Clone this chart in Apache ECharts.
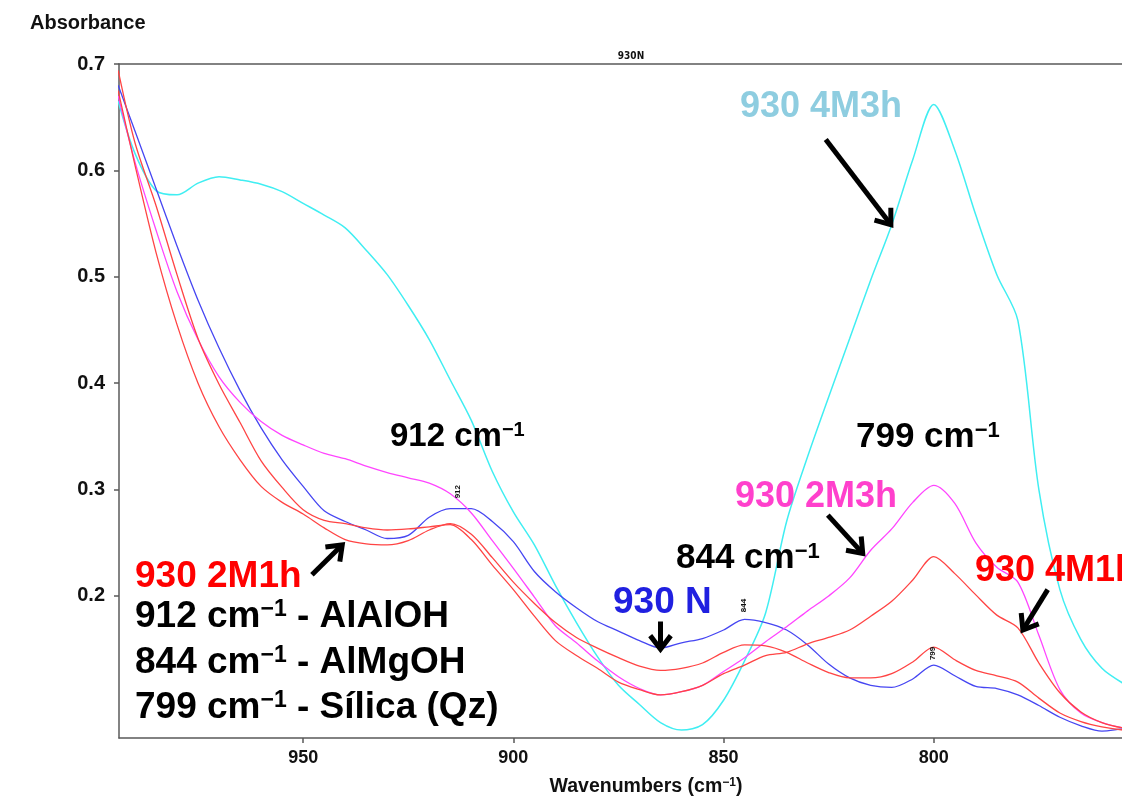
<!doctype html>
<html>
<head>
<meta charset="utf-8">
<title>930N</title>
<script src="https://cdn.jsdelivr.net/npm/echarts@6/dist/echarts.min.js"></script>
<style>
html, body { margin: 0; padding: 0; overflow: hidden; background: #fff; }
#main { width: 1200px; height: 797px; }
</style>
</head>
<body>
<div id="main"></div>
<script>
// wavenumbers (cm-1), shared by all spectra
var wavenumbers = [994, 990, 985, 980, 975, 970, 965, 960, 955, 950,
    945, 940, 935, 930, 925, 920, 915, 910, 905, 900,
    895, 890, 885, 880, 875, 870, 865, 860, 855, 850,
    845, 840, 835, 830, 825, 820, 815, 810, 805, 800,
    795, 790, 785, 780, 775, 770, 765, 760, 755, 750];

// absorbance of each sample
var s930N = [0.680, 0.637, 0.583, 0.529, 0.478, 0.433, 0.393, 0.358, 0.328, 0.303,
    0.280, 0.270, 0.262, 0.254, 0.257, 0.274, 0.282, 0.282, 0.270, 0.251,
    0.223, 0.204, 0.189, 0.176, 0.167, 0.158, 0.151, 0.156, 0.160, 0.168,
    0.178, 0.175, 0.168, 0.154, 0.136, 0.123, 0.116, 0.114, 0.122, 0.135,
    0.125, 0.115, 0.113, 0.107, 0.097, 0.086, 0.078, 0.073, 0.075, 0.076];

var s2M1h = [0.675, 0.605, 0.523, 0.455, 0.400, 0.359, 0.328, 0.303, 0.288, 0.277,
    0.264, 0.253, 0.249, 0.248, 0.252, 0.262, 0.268, 0.258, 0.236, 0.213,
    0.193, 0.175, 0.161, 0.151, 0.142, 0.134, 0.130, 0.132, 0.137, 0.147,
    0.154, 0.153, 0.147, 0.137, 0.128, 0.123, 0.123, 0.127, 0.138, 0.152,
    0.140, 0.130, 0.125, 0.119, 0.104, 0.090, 0.082, 0.077, 0.074, 0.073];

var s2M3h = [0.670, 0.608, 0.544, 0.486, 0.441, 0.406, 0.382, 0.364, 0.351, 0.342,
    0.334, 0.329, 0.322, 0.316, 0.311, 0.306, 0.296, 0.278, 0.252, 0.226,
    0.199, 0.172, 0.156, 0.139, 0.124, 0.113, 0.107, 0.110, 0.116, 0.129,
    0.142, 0.157, 0.171, 0.186, 0.200, 0.217, 0.243, 0.263, 0.288, 0.304,
    0.287, 0.250, 0.227, 0.213, 0.163, 0.112, 0.090, 0.081, 0.076, 0.074];

var s4M1h = [0.694, 0.626, 0.567, 0.502, 0.442, 0.399, 0.363, 0.327, 0.302, 0.281,
    0.271, 0.268, 0.264, 0.262, 0.263, 0.265, 0.267, 0.253, 0.229, 0.206,
    0.181, 0.158, 0.144, 0.132, 0.119, 0.112, 0.107, 0.110, 0.116, 0.127,
    0.135, 0.144, 0.147, 0.155, 0.161, 0.168, 0.181, 0.195, 0.215, 0.237,
    0.221, 0.201, 0.182, 0.170, 0.137, 0.109, 0.091, 0.081, 0.076, 0.074];

var s4M3h = [0.665, 0.616, 0.581, 0.577, 0.588, 0.594, 0.591, 0.587, 0.580, 0.569,
    0.558, 0.546, 0.525, 0.502, 0.473, 0.441, 0.403, 0.365, 0.317, 0.279,
    0.248, 0.210, 0.175, 0.143, 0.116, 0.098, 0.081, 0.074, 0.079, 0.102,
    0.139, 0.184, 0.270, 0.331, 0.387, 0.442, 0.497, 0.549, 0.610, 0.662,
    0.619, 0.558, 0.502, 0.459, 0.300, 0.206, 0.159, 0.132, 0.118, 0.108];

var xTicks = [950, 900, 850, 800];
var yTicks = [0.2, 0.3, 0.4, 0.5, 0.6, 0.7];
var peakLabels = [912, 844, 799];

var FONT = '"Liberation Sans", Arial, Helvetica, sans-serif';

function pairs(vals) {
    return wavenumbers.map(function (w, i) { return [w, vals[i]]; });
}

function spectrum(name, vals, color, width) {
    return {
        name: name,
        type: 'line',
        data: pairs(vals),
        showSymbol: false,
        smooth: 0.3,
        lineStyle: { color: color, width: width || 1.3 },
        itemStyle: { color: color },
        silent: true
    };
}

var chart = echarts.init(document.getElementById('main'));

var axisColor = '#5a5a5a';
chart.setOption({
    animation: false,
    grid: { left: 119, top: 64, width: 1046, height: 674 },
    xAxis: [{
        type: 'value', min: 745, max: 993.8, inverse: true,
        axisLine: { show: true, onZero: false, lineStyle: { color: axisColor, width: 1.5 } },
        axisTick: { show: true, customValues: xTicks, length: 5, lineStyle: { color: axisColor, width: 1.5 } },
        axisLabel: { customValues: xTicks, fontFamily: FONT, fontWeight: 'bold', fontSize: 18, color: '#111', margin: 11 },
        splitLine: { show: false }
    }, {
        type: 'value', min: 745, max: 993.8, inverse: true, position: 'top',
        axisLine: { show: true, onZero: false, lineStyle: { color: axisColor, width: 1.5 } },
        axisTick: { show: false }, axisLabel: { show: false }, splitLine: { show: false }
    }],
    yAxis: {
        type: 'value', min: 0.0665, max: 0.7,
        axisLine: { show: true, lineStyle: { color: axisColor, width: 1.5 } },
        axisTick: { show: true, customValues: yTicks, length: 5, lineStyle: { color: axisColor, width: 1.5 } },
        axisLabel: {
            customValues: yTicks, fontFamily: FONT, fontWeight: 'bold', fontSize: 20, color: '#111', margin: 14,
            formatter: function (v) { return v.toFixed(1); }
        },
        splitLine: { show: false }
    },
    series: [
        spectrum('930 4M3h', s4M3h, '#40eef2', 1.5),
        spectrum('930 N', s930N, '#4646f2'),
        spectrum('930 2M3h', s2M3h, '#ff45ff'),
        spectrum('930 2M1h', s2M1h, '#ff4444'),
        spectrum('930 4M1h', s4M1h, '#ff4444')
    ]
});

// ---- annotations ----
function toPx(w, a) {
    return chart.convertToPixel({ xAxisIndex: 0, yAxisIndex: 0 }, [w, a]);
}

function label(x, baseline, fs, color, main, tail) {
    var rich = {
        m: { fontSize: fs, fontWeight: 'bold', fontFamily: FONT, fill: color, lineHeight: fs },
        s: { fontSize: Math.round(fs * 0.62), fontWeight: 'bold', fontFamily: FONT, fill: color,
             verticalAlign: 'top', lineHeight: fs * 0.9 }
    };
    var text = tail === undefined ? '{m|' + main + '}' : '{m|' + main + '}{s|\u22121}{m|' + tail + '}';
    return {
        type: 'text', z: 100,
        style: { x: x, y: baseline - fs * 0.36, text: text, rich: rich, verticalAlign: 'middle', align: 'left' }
    };
}

function arrow(from, to) {
    var p0 = toPx(from[0], from[1]);
    var p1 = toPx(to[0], to[1]);
    var dx = p1[0] - p0[0], dy = p1[1] - p0[1];
    var len = Math.sqrt(dx * dx + dy * dy);
    var ux = dx / len, uy = dy / len;
    var head = 17, ang = 0.65;
    var c = Math.cos(ang), s = Math.sin(ang);
    var a1 = [p1[0] - head * (ux * c - uy * s), p1[1] - head * (uy * c + ux * s)];
    var a2 = [p1[0] - head * (ux * c + uy * s), p1[1] - head * (uy * c - ux * s)];
    var st = { stroke: '#000', lineWidth: 5, fill: null, lineJoin: 'miter', lineCap: 'butt' };
    return [
        { type: 'polyline', z: 100, shape: { points: [p0, [p1[0] - ux * 2, p1[1] - uy * 2]] }, style: st },
        { type: 'polyline', z: 100, shape: { points: [a1, p1, a2] }, style: st }
    ];
}

var g = [];
g.push({ type: 'text', z: 100, style: { x: 30, y: 23, text: 'Absorbance', fontFamily: FONT, fontWeight: 'bold', fontSize: 20, fill: '#111', verticalAlign: 'middle' } });
g.push({ type: 'text', z: 100, style: { x: 631, y: 56, text: '930N', fontFamily: '"Liberation Sans Narrow", "DejaVu Sans Condensed", ' + FONT, fontWeight: 'bold', fontSize: 10, fill: '#111', align: 'center', verticalAlign: 'middle' } });
g.push({
    type: 'text', z: 100,
    style: {
        x: 646, y: 787, align: 'center', verticalAlign: 'middle',
        text: '{m|Wavenumbers (cm}{s|\u22121}{m|)}',
        rich: {
            m: { fontSize: 19.5, fontWeight: 'bold', fontFamily: FONT, fill: '#111', lineHeight: 20 },
            s: { fontSize: 12, fontWeight: 'bold', fontFamily: FONT, fill: '#111', verticalAlign: 'top', lineHeight: 18 }
        }
    }
});

g.push(label(740, 120, 36, '#8ecde0', '930 4M3h'));
g.push(label(390, 449, 33, '#000', '912 cm', ''));
g.push(label(856, 450, 35, '#000', '799 cm', ''));
g.push(label(735, 510, 36, '#ff40cc', '930 2M3h'));
g.push(label(676, 571, 35, '#000', '844 cm', ''));
g.push(label(613, 616, 37, '#2020e0', '930 N'));
g.push(label(975, 584, 36, '#ff0000', '930 4M1h'));
g.push(label(135, 590, 37, '#ff0000', '930 2M1h'));
g.push(label(135, 630, 37, '#000', '912 cm', ' - AlAlOH'));
g.push(label(135, 676, 37, '#000', '844 cm', ' - AlMgOH'));
g.push(label(135, 721, 37, '#000', '799 cm', ' - S\u00edlica (Qz)'));

// small rotated peak marks
var peakAt = { 912: 0.298, 844: 0.191, 799: 0.146 };
peakLabels.forEach(function (p) {
    var pt = toPx(p + 1.2, peakAt[p]);
    g.push({
        type: 'text', z: 100, x: pt[0], y: pt[1], rotation: Math.PI / 2,
        style: { x: 0, y: 0, text: String(p), fontFamily: FONT, fontWeight: 'bold', fontSize: 8, fill: '#111', align: 'center', verticalAlign: 'middle' }
    });
});

// arrows (data coordinates: [wavenumber, absorbance])
g = g.concat(arrow([825.7, 0.629], [810.2, 0.549]));
g = g.concat(arrow([825.2, 0.276], [816.9, 0.240]));
g = g.concat(arrow([865.0, 0.176], [865.0, 0.150]));
g = g.concat(arrow([947.9, 0.220], [940.7, 0.248]));
g = g.concat(arrow([772.9, 0.206], [778.8, 0.168]));

chart.setOption({ graphic: g });
</script>
</body>
</html>
